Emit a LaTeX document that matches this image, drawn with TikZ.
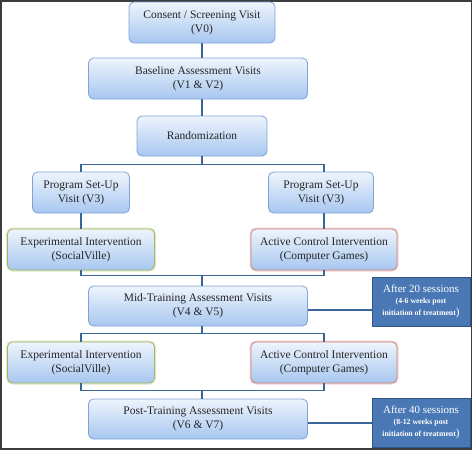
\documentclass[tikz,border=0pt]{standalone}
\usepackage{fontspec}
\setmainfont{Liberation Serif}
\definecolor{boxline}{HTML}{7EA3D4}
\definecolor{boxtop}{HTML}{EEF4FC}
\definecolor{boxbot}{HTML}{A7C7F0}
\definecolor{wire}{HTML}{3A6797}
\definecolor{notefill}{HTML}{4A78B4}
\definecolor{noteline}{HTML}{2F5585}
\definecolor{expglow}{HTML}{A3B866}
\definecolor{actglow}{HTML}{D0857E}
\definecolor{framegray}{HTML}{3C3C3C}

\begin{document}
\begin{tikzpicture}[
		x=1pt,
		y=-1pt,
		visit/.style={draw=boxline, line width=0.8pt, rounded corners=5pt, top color=boxtop, bottom color=boxbot, align=center, text=black!85, font=\fontsize{11.5}{14}\selectfont, inner sep=2pt, minimum height=41pt},
		expbox/.style={visit, draw=expglow, preaction={draw=expglow!70, line width=3pt, opacity=.5}},
		actbox/.style={visit, draw=actglow, preaction={draw=actglow!70, line width=3pt, opacity=.5}},
		notebox/.style={draw=noteline, line width=0.8pt, fill=notefill, text=white, align=center, minimum width=98pt, minimum height=49pt, inner sep=1pt},
		link/.style={draw=wire, line width=1.1pt},
	]
		\useasboundingbox (0,0) rectangle (472,450);
		\draw[framegray, line width=1.5pt] (0.75,0.75) rectangle (471.25,448.75);
		
		\node[visit, minimum width=146pt] (consent) at (202,22.5) {Consent / Screening Visit\\(V0)};
		\node[visit, minimum width=219pt] (base) at (198,78.5) {Baseline Assessment Visits\\(V1 \& V2)};
		\node[visit, minimum width=130pt, minimum height=40pt] (rand) at (202,136) {Randomization};
		\node[visit, minimum width=97pt] (setl) at (81,192.5) {Program Set-Up\\Visit (V3)};
		\node[visit, minimum width=105pt] (setr) at (321,192.5) {Program Set-Up\\Visit (V3)};
		\node[visit, minimum width=219pt, minimum height=40pt] (mid) at (198,306) {Mid-Training Assessment Visits\\(V4 \& V5)};
		\node[visit, minimum width=219pt, minimum height=40pt] (post) at (198,419) {Post-Training Assessment Visits\\(V6 \& V7)};
		
		\foreach \r/\y in {a/249.5, b/362.5}{
			\node[expbox, minimum width=147pt] (exp\r) at (81,\y) {Experimental Intervention\\(SocialVille)};
			\node[actbox, minimum width=146pt] (act\r) at (324,\y) {Active Control Intervention\\(Computer Games)};
		}
		
		\node[notebox] (note20) at (421,301.5) {{\fontsize{11}{13}\selectfont After 20 sessions}\\[-1pt]{\fontsize{7.8}{9.5}\selectfont\bfseries (4-6 weeks post}\\{\fontsize{7.8}{9.5}\selectfont\bfseries initiation of treatment}{\fontsize{11}{9.5}\selectfont)}};
		\node[notebox] (note40) at (421,422.5) {{\fontsize{11}{13}\selectfont After 40 sessions}\\[-1pt]{\fontsize{7.8}{9.5}\selectfont\bfseries (8-12 weeks post}\\{\fontsize{7.8}{9.5}\selectfont\bfseries initiation of treatment}{\fontsize{11}{9.5}\selectfont)}};
		
		\draw[link] (consent.south) -- (consent.south |- base.north);
		\draw[link] (base.south -| rand.north) -- (rand.north);
		\draw[link] (rand.south) -- ++(0,8) coordinate (split1) -| (setl.north);
		\draw[link] (split1) -| (acta.north |- setr.north);
		\draw[link] (setl) -- (expa);
		\draw[link] (acta.north |- setr.south) -- (acta.north);
		\draw[link] (expa.south) -- ++(0,5) coordinate (join1) -| (acta.south);
		\draw[link] (join1 -| rand.south) -- (rand.south |- mid.north);
		\draw[link] (rand.south |- mid.south) -- ++(0,7) coordinate (split2) -| (expb.north);
		\draw[link] (split2) -| (actb.north);
		\draw[link] (expb.south) -- ++(0,7) coordinate (join2) -| (actb.south);
		\draw[link] (join2 -| rand.south) -- (rand.south |- post.north);
		\draw[link] ([yshift=-4pt]mid.east) -- ([yshift=-4pt]mid.east -| note20.west);
		\draw[link] ([yshift=-4pt]post.east) -- ([yshift=-4pt]post.east -| note40.west);
	\end{tikzpicture}
\end{document}
